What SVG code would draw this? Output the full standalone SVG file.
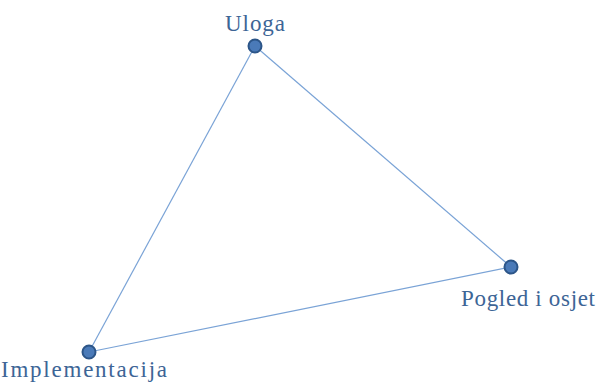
<svg xmlns="http://www.w3.org/2000/svg" width="597" height="383" viewBox="0 0 597 383">
<style>
.lbl{font-family:"Liberation Serif",serif;font-size:23px;fill:#3d6596}
.dot{fill:#4a7ab8;stroke:#2c5588;stroke-width:2}
.edge{stroke:#7aa3d6;stroke-width:1.2;fill:none}
</style>
<rect width="597" height="383" fill="#fff"/>
<g id="connectors">
<line class="edge" x1="255" y1="46" x2="511" y2="267"/>
<line class="edge" x1="511" y1="267" x2="89" y2="352"/>
<line class="edge" x1="89" y1="352" x2="255" y2="46"/>
</g>
<g id="uloga">
<circle class="dot" cx="255" cy="46" r="6.5"/>
<text class="lbl" x="225" y="31" textLength="60" lengthAdjust="spacing">Uloga</text>
</g>
<g id="pogled">
<circle class="dot" cx="511" cy="267" r="6.5"/>
<text class="lbl" x="461" y="306" textLength="134" lengthAdjust="spacing">Pogled i osjet</text>
</g>
<g id="implementacija">
<circle class="dot" cx="89" cy="352" r="6.5"/>
<text class="lbl" x="1" y="377" textLength="166" lengthAdjust="spacing">Implementacija</text>
</g>
</svg>
